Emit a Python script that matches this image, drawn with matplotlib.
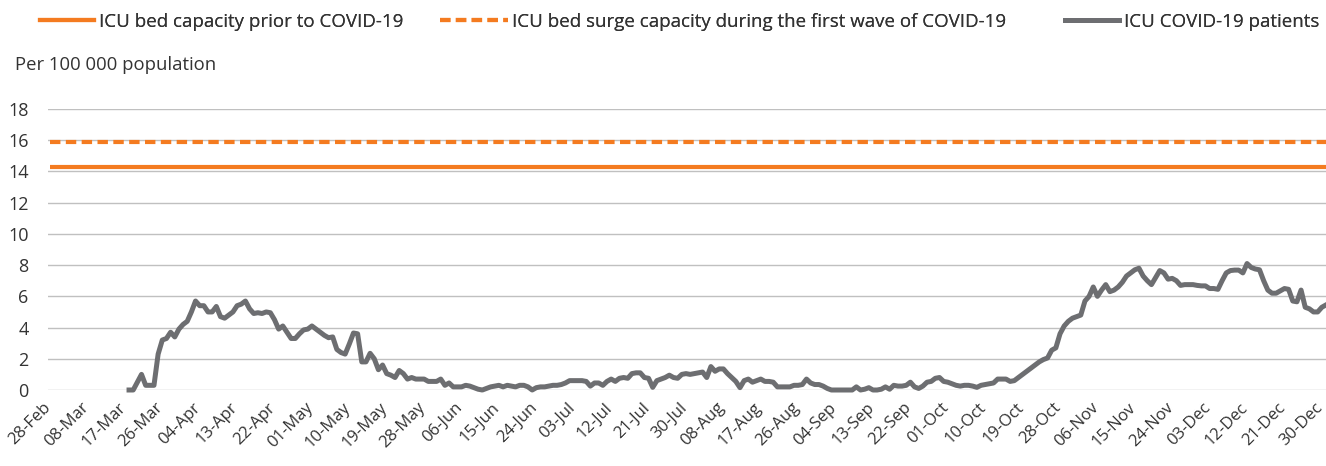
import matplotlib
matplotlib.use("Agg")
import matplotlib.pyplot as plt
import matplotlib.dates as mdates
import matplotlib.transforms as mtransforms
from matplotlib.lines import Line2D
import pandas as pd
import numpy as np

plt.rcParams['font.family'] = ['Open Sans', 'DejaVu Sans']

# ---- data ----
series_start = "2020-03-18"
icu_patients = [
    0.0, 0.0, 0.5, 1.0, 0.3, 0.3, 0.3, 2.3, 3.2, 3.3,          # d19-28
    3.7, 3.4, 3.9, 4.2, 4.4, 5.0, 5.7, 5.4, 5.4, 5.0,          # d29-38
    5.0, 5.35, 4.7, 4.6, 4.8, 5.0, 5.4, 5.5, 5.7, 5.2,         # d39-48
    4.9, 4.95, 4.9, 5.0, 4.95, 4.5, 3.9, 4.1, 3.7, 3.3,        # d49-58
    3.3, 3.6, 3.85, 3.9, 4.1, 3.9, 3.7, 3.5, 3.35, 3.4,        # d59-68
    2.6, 2.4, 2.3, 2.95, 3.65, 3.6, 1.8, 1.8, 2.35, 2.0,       # d69-78
    1.3, 1.6, 1.05, 0.95, 0.8, 1.25, 1.05, 0.7, 0.8, 0.7,      # d79-88
    0.7, 0.7, 0.55, 0.55, 0.55, 0.7, 0.3, 0.45, 0.2, 0.2,      # d89-98
    0.2, 0.3, 0.25, 0.15, 0.05, 0.0, 0.1, 0.2, 0.25, 0.3,      # d99-108
    0.2, 0.3, 0.25, 0.2, 0.3, 0.3, 0.2, 0.0, 0.15, 0.2,        # d109-118
    0.2, 0.25, 0.3, 0.3, 0.35, 0.45, 0.6, 0.6, 0.6, 0.6,       # d119-128
    0.55, 0.25, 0.45, 0.45, 0.3, 0.55, 0.7, 0.55, 0.75, 0.8,   # d129-138
    0.75, 1.05, 1.1, 1.1, 0.8, 0.75, 0.17, 0.6, 0.7, 0.8,      # d139-148
    0.95, 0.8, 0.75, 1.0, 1.05, 1.0, 1.05, 1.1, 1.15, 0.8,     # d149-158
    1.5, 1.2, 1.35, 1.35, 1.05, 0.8, 0.55, 0.15, 0.6, 0.7,     # d159-168
    0.5, 0.6, 0.7, 0.55, 0.55, 0.5, 0.2, 0.2, 0.2, 0.2,        # d169-178
    0.3, 0.3, 0.35, 0.7, 0.45, 0.35, 0.35, 0.25, 0.1, 0.0,     # d179-188
    0.0, 0.0, 0.0, 0.0, 0.0, 0.2, 0.0, 0.05, 0.15, 0.0,        # d189-198
    0.0, 0.05, 0.2, 0.05, 0.3, 0.25, 0.25, 0.3, 0.5, 0.2,      # d199-208
    0.1, 0.25, 0.5, 0.55, 0.75, 0.8, 0.55, 0.5, 0.4, 0.3,      # d209-218
    0.25, 0.3, 0.3, 0.25, 0.17, 0.3, 0.35, 0.4, 0.45, 0.7,     # d219-228
    0.7, 0.7, 0.55, 0.6, 0.8, 1.0, 1.2, 1.4, 1.6, 1.8,         # d229-238
    1.95, 2.05, 2.55, 2.7, 3.6, 4.1, 4.4, 4.6, 4.7, 4.8,       # d239-248
    5.7, 6.0, 6.6, 6.0, 6.4, 6.75, 6.3, 6.4, 6.6, 6.9,         # d249-258
    7.3, 7.5, 7.7, 7.8, 7.3, 7.0, 6.75, 7.2, 7.65, 7.5,        # d259-268
    7.1, 7.15, 7.0, 6.7, 6.75, 6.75, 6.75, 6.7, 6.67, 6.67,    # d269-278
    6.5, 6.5, 6.45, 7.0, 7.5, 7.65, 7.68, 7.68, 7.5, 8.1,      # d279-288
    7.85, 7.75, 7.7, 7.0, 6.4, 6.2, 6.2, 6.35, 6.5, 6.45,      # d289-298
    5.7, 5.65, 6.4, 5.3, 5.2, 5.0, 5.0, 5.3, 5.45,             # d299-307
]
capacity_prior = 14.3
capacity_surge = 15.9
axis_start = "2020-02-28"
axis_end = "2020-12-31"
tick_start = "2020-02-28"
tick_end = "2020-12-30"
tick_step_days = 9
y_ticks = [0, 2, 4, 6, 8, 10, 12, 14, 16, 18]

label_prior = "ICU bed capacity prior to COVID-19"
label_surge = "ICU bed surge capacity during the first wave of COVID-19"
label_patients = "ICU COVID-19 patients"
y_title = "Per 100 000 population"

# ---- styling ----
ORANGE = "#F47B20"
GREY = "#6D6E71"
TEXT = "#333333"
GRID = "#C0C0C0"

W, H = 1326, 466
fig = plt.figure(figsize=(W / 100, H / 100), dpi=100)
ax = fig.add_axes([48 / W, (H - 390) / H, (W - 48) / W, (390 - 109) / H])

dates = pd.date_range(series_start, periods=len(icu_patients), freq="D")
all_days = pd.date_range(axis_start, axis_end, freq="D")

DASH = (0, (2.5, 1.3))
l1, = ax.plot(all_days, np.full(len(all_days), capacity_prior), color=ORANGE, lw=3.0,
              solid_capstyle="butt", zorder=3)
l2, = ax.plot(all_days, np.full(len(all_days), capacity_surge), color=ORANGE, lw=3.0,
              ls=DASH, zorder=3)
l3, = ax.plot(dates, icu_patients, color=GREY, lw=3.6, solid_joinstyle="round",
              zorder=4, clip_on=False)

x0 = mdates.date2num(pd.Timestamp(axis_start)) - 0.5
x1 = mdates.date2num(pd.Timestamp(axis_end))
ax.set_xlim(x0, x1)
ax.set_ylim(0, 18)
ax.set_yticks(y_ticks)
ax.yaxis.grid(True, color=GRID, lw=1.0)
ax.set_axisbelow(True)
for s in ax.spines.values():
    s.set_visible(False)

ticks = pd.date_range(tick_start, tick_end, freq=f"{tick_step_days}D")
ax.set_xticks(ticks)
ax.set_xticklabels([t.strftime("%d-%b") for t in ticks], rotation=45,
                   ha="right", rotation_mode="anchor")
ax.tick_params(axis="x", length=0, pad=7, labelsize=12, labelcolor=TEXT)
ax.tick_params(axis="y", length=0, pad=14, labelsize=13, labelcolor=TEXT)
shift = mtransforms.ScaledTranslation(-7 / 100, 0, fig.dpi_scale_trans)
for lab in ax.get_xticklabels():
    lab.set_transform(lab.get_transform() + shift)

fig.text(15 / W, 1 - 65 / H, y_title, fontsize=13.3, color=TEXT, va="center", ha="left")

# legend: three entries placed across the top
entries = [
    (l1, label_prior, 40, 2.9),
    (l2, label_surge, 440, 3.6),
    (l3, label_patients, 1065, 2.9),
]
for handle, lab, xpx, hlen in entries:
    h = Line2D([], [], color=handle.get_color(), lw=handle.get_linewidth(),
               ls=DASH if handle is l2 else "-")
    lg = fig.legend([h], [lab], loc="center left", bbox_to_anchor=(xpx / W, 1 - 22 / H),
                    frameon=False, fontsize=13.5, handlelength=hlen, handletextpad=0.25,
                    borderaxespad=0, borderpad=0)
    for t in lg.get_texts():
        t.set_color(TEXT)
    fig.add_artist(lg)

fig.savefig("out.png", dpi=100, facecolor="white")
